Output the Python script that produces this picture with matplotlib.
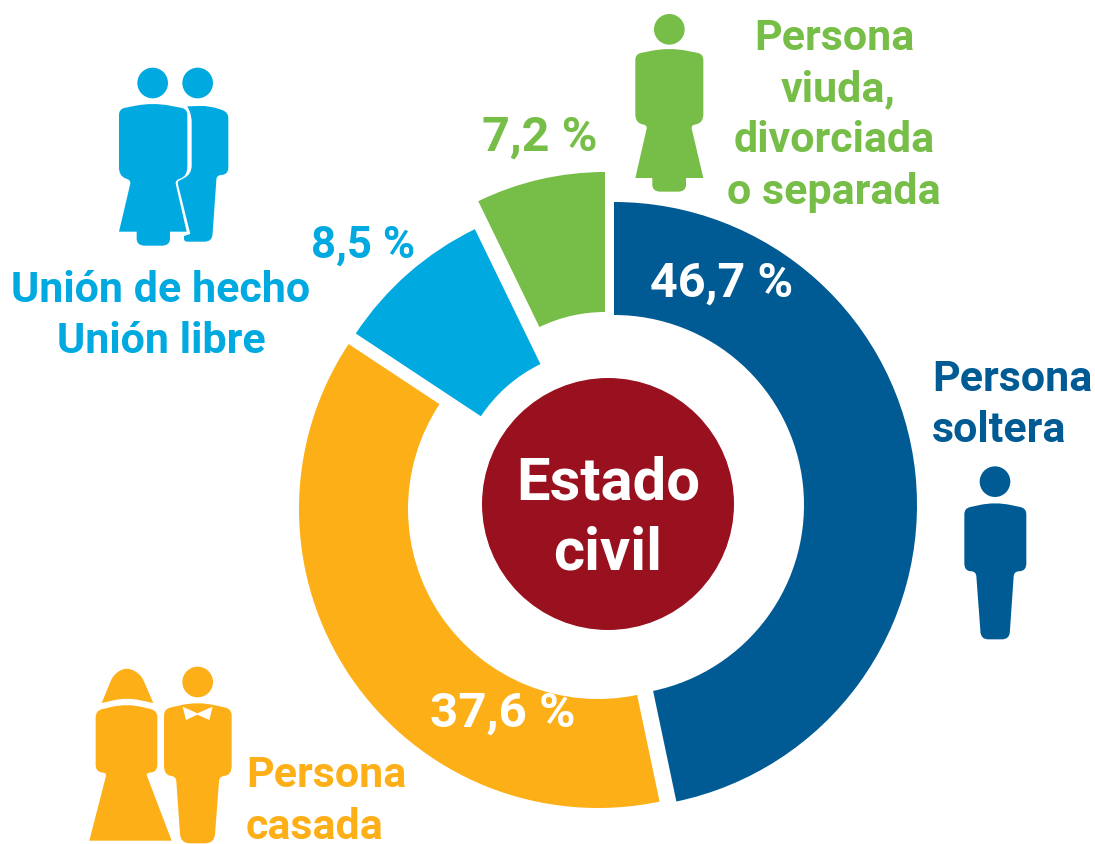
import matplotlib
matplotlib.use("Agg")
import matplotlib.pyplot as plt
from matplotlib.path import Path
from matplotlib.patches import PathPatch, Circle
import numpy as np

W, H = 1095, 845
plt.rcParams['font.family'] = ['Roboto', 'DejaVu Sans']

categories = ["Persona soltera", "Persona casada", "Unión de hecho / Unión libre",
              "Persona viuda, divorciada o separada"]
values = [46.7, 37.6, 8.5, 7.2]
colors = ["#005B94", "#FCAF17", "#00A9E0", "#76BE47"]
# per-slice layout, in image pixels: centre x, centre y, outer radius, inner radius
slice_layout = [(614, 506, 303, 190), (598, 510, 299, 190),
                (606, 500, 300, 150), (605, 463, 290, 150)]
value_label_pos = [(722, 279, "white", 35), (503, 709, "white", 35.5),
                   (363, 241, colors[2], 31.5), (540, 133, colors[3], 35)]

fig = plt.figure(figsize=(W / 100, H / 100), dpi=100)
ax = fig.add_axes([0, 0, 1, 1])
wedges, _ = ax.pie(values, colors=colors, startangle=90, counterclock=False,
                   radius=300, center=(608, H - 505), normalize=True)
for w, (cx, cy, R, r) in zip(wedges, slice_layout):
    w.set_center((cx, H - cy))
    w.set_radius(R)
    w.set_width(R - r)
    w.set_linewidth(0)
ax.set_xlim(0, W)
ax.set_ylim(0, H)
ax.set_aspect('equal')
ax.axis('off')

ax.add_patch(Circle((608, H - 505), 126, fc="#99111F", ec="none", zorder=3))


def tx(x, y, s, color, size=31, ha='center'):
    ax.text(x, H - y, s, color=color, fontsize=size, fontweight='bold', ha=ha,
            va='center_baseline', zorder=5)


for v, (x, y, c, fs) in zip(values, value_label_pos):
    tx(x, y, f"{v:.1f} %".replace('.', ','), c, fs)

tx(608, 478, "Estado", "white", 43)
tx(608, 548, "civil", "white", 43)
for y, x, s in [(34, 834, "Persona"), (85, 838, "viuda,"), (136, 834, "divorciada"),
                (188, 834, "o separada")]:
    tx(x, y, s, colors[3])
tx(161, 286, "Unión de hecho", colors[2])
tx(161, 337, "Unión libre", colors[2])
tx(932, 375, "Persona", colors[0], ha='left')
tx(932, 426, "soltera", colors[0], ha='left')
tx(246, 771, "Persona", colors[1], ha='left')
tx(246, 823, "casada", colors[1], ha='left')


def shape(ox, oy, pts, color, z=4):
    """Closed polygon with rounded corners; pts are (x, y, cut) in 3x crop units."""
    P = [(ox + p[0] / 3, H - (oy + p[1] / 3)) for p in pts]
    cut = [p[2] / 3 for p in pts]
    n = len(P)
    vs, cs = [], []
    for i in range(n):
        a, b, c = np.array(P[i - 1]), np.array(P[i]), np.array(P[(i + 1) % n])
        if cut[i] <= 0:
            vs.append(tuple(b)); cs.append(Path.LINETO)
            continue
        u = (a - b) / np.linalg.norm(a - b)
        v = (c - b) / np.linalg.norm(c - b)
        d1 = min(cut[i], np.linalg.norm(a - b) / 2)
        d2 = min(cut[i], np.linalg.norm(c - b) / 2)
        vs += [tuple(b + u * d1), tuple(b), tuple(b + v * d2)]
        cs += [Path.LINETO, Path.CURVE3, Path.CURVE3]
    cs[0] = Path.MOVETO
    vs.append(vs[0]); cs.append(Path.CLOSEPOLY)
    ax.add_patch(PathPatch(Path(vs, cs), fc=color, ec='none', zorder=z))


def head(ox, oy, x, y, color, r=46):
    ax.add_patch(Circle((ox + x / 3, H - (oy + y / 3)), r / 3, fc=color, ec='none', zorder=4))


# single man
c = colors[0]
head(950, 460, 135, 68, c)
shape(950, 460, [(43, 148, 18), (135, 128, 70), (229, 148, 18), (229, 335, 22), (192, 338, 14),
                 (178, 541, 22), (93, 541, 22), (78, 338, 14), (43, 335, 22)], c)

# widowed woman
c = colors[3]
head(620, 5, 148, 76, c)
shape(620, 5, [(46, 150, 18), (148, 130, 75), (250, 150, 18), (250, 355, 25), (213, 365, 10),
               (250, 522, 0), (198, 522, 0), (198, 563, 25), (97, 563, 25), (97, 522, 0),
               (46, 522, 0), (82, 365, 10), (46, 355, 25)], c)

# couple
c = colors[2]
head(90, 60, 188, 72, c)
head(90, 60, 323, 72, c)
shape(90, 60, [(87, 150, 18), (188, 130, 75), (292, 150, 18), (292, 350, 28), (255, 365, 10),
               (290, 518, 0), (240, 518, 0), (240, 560, 25), (140, 560, 25), (140, 518, 0),
               (87, 518, 0), (123, 365, 10), (87, 350, 25)], c)
shape(90, 60, [(292, 142, 0), (360, 140, 30), (415, 160, 18), (415, 345, 20), (380, 350, 10),
               (366, 548, 22), (282, 548, 10), (282, 531, 0), (301, 525, 0), (262, 368, 6),
               (305, 345, 25), (305, 170, 20)], c)

# married couple
c = colors[1]
ox, oy = 80, 655
shape(ox, oy, [(65, 147, 0), (100, 62, 20), (140, 38, 35), (183, 62, 20), (220, 147, 0),
               (140, 130, 70)], c)
shape(ox, oy, [(47, 170, 20), (140, 148, 70), (232, 170, 20), (232, 352, 20), (198, 358, 8),
               (275, 560, 0), (28, 560, 0), (80, 358, 8), (47, 352, 20)], c)
head(ox, oy, 353, 84, c)
shape(ox, oy, [(252, 165, 20), (353, 142, 75), (455, 165, 20), (455, 362, 28), (418, 368, 14),
               (403, 568, 28), (302, 568, 28), (288, 368, 14), (252, 362, 28)], c)
shape(ox, oy, [(308, 158, 0), (352, 178, 0), (398, 158, 0), (388, 198, 0), (352, 182, 0),
               (318, 198, 0)], "white", z=5)

fig.savefig("out.png", dpi=100, facecolor="white")
